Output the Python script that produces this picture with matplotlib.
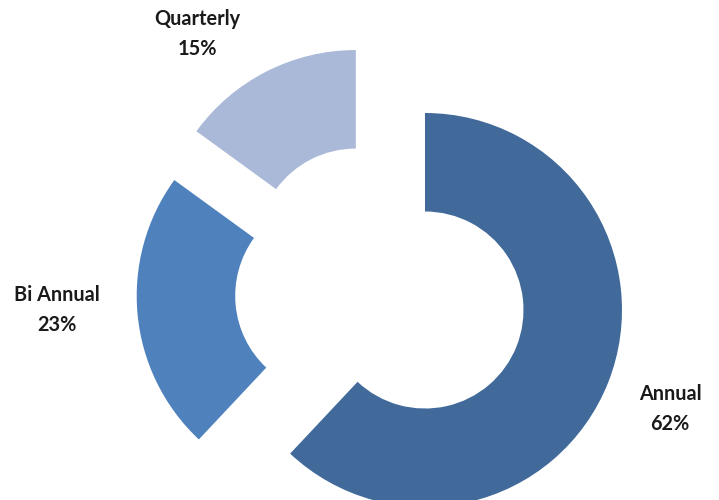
import matplotlib
matplotlib.use("Agg")
import matplotlib.pyplot as plt

categories = ["Annual", "Bi Annual", "Quarterly"]
values = [62, 23, 15]
colors = ["#416A9B", "#4F81BD", "#AAB9D7"]
explode = [50, 45, 50]
label_pos = [(670, 91), (57, 190), (197, 466)]  # text anchor positions (x, y-up) in figure pixels

fig = plt.figure(figsize=(7.19, 5.0), dpi=100)
ax = fig.add_axes([0, 0, 1, 1])

R = 197
cx, cy = 378.5, 208.4
wedges, _ = ax.pie(values, colors=colors, startangle=90, counterclock=False,
                   radius=R, center=(cx, cy), explode=explode,
                   wedgeprops=dict(width=R * 0.5, linewidth=0))
ax.set_xlim(0, 719)
ax.set_ylim(0, 500)
ax.set_aspect("equal")
ax.axis("off")

for cat, v, (x, y) in zip(categories, values, label_pos):
    ax.text(x, y, f"{cat}\n{v}%", ha="center", va="center", fontsize=14.3,
            fontweight="bold", family=["Lato", "DejaVu Sans"], color="#1a1a1a",
            linespacing=1.6)

fig.savefig("out.png", dpi=100)
